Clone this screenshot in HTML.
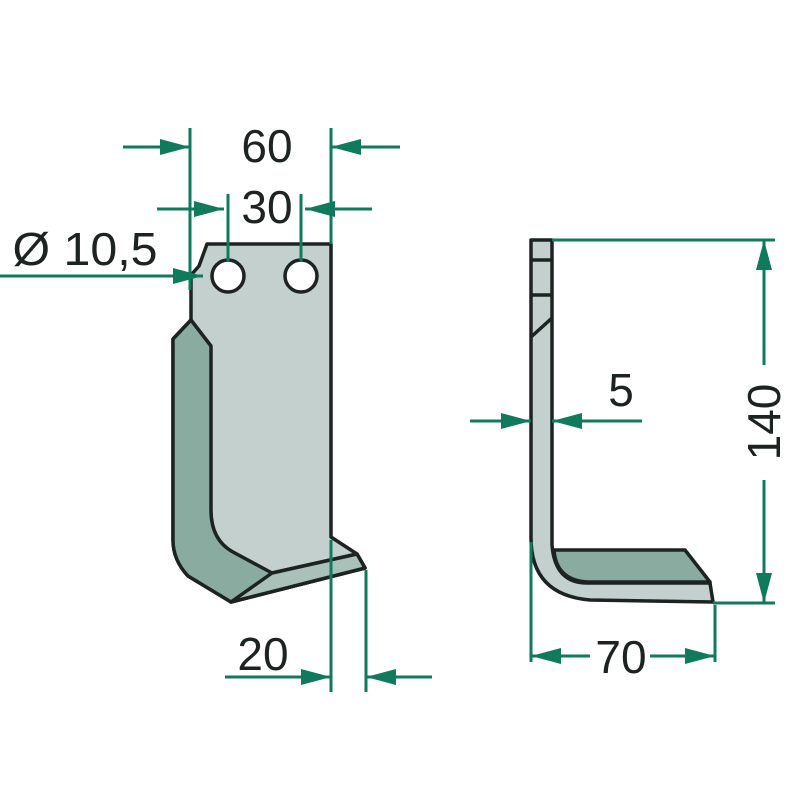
<!DOCTYPE html>
<html><head><style>body{margin:0;background:#fff}svg{display:block}</style></head>
<body>
<svg width="800" height="800" viewBox="0 0 800 800" xmlns="http://www.w3.org/2000/svg">
<defs>
<marker id="a" viewBox="0 0 30 16" refX="30" refY="8" markerWidth="30" markerHeight="16" markerUnits="userSpaceOnUse" orient="auto"><path d="M0,0 L30,8 L0,16 Z" fill="#0f7b5c"/></marker>
</defs>
<g stroke="#1c2321" stroke-width="3.5" stroke-linejoin="round">
<path d="M207,244 L331,244 L331,537 L357,554 L365,568 L231,602 L188,576 Q173,560 173,540 L173,339 L191,320 L191,275 L199,266 Z" fill="#c3d0cd"/>
<path d="M191,320 L211,346 L211,510 Q211,540 233,552 L272,573 L357,554 L365,568 L231,602 L188,576 Q173,560 173,540 L173,339 Z" fill="#8aab9f"/>
<path d="M272,573 L357,554 L365,568 L231,602 Z" fill="#a9c1b8"/>
<circle cx="228" cy="276" r="16" fill="#fff"/>
<circle cx="301" cy="276" r="16" fill="#fff"/>
<path d="M531,240 L552,240 L552,545 Q555,583 587,583 L710,583 L713,602 L590,600 Q531,595 531,538 Z" fill="#c3d0cd"/>
<path d="M554,550 L685,550 L710,582 L587,582 Q556,580 554,550 Z" fill="#8aab9f"/>
<path d="M531,260 H552 M531,295 H552 M531,337 L552,318" fill="none"/>
</g>
<g stroke="#0f7b5c" stroke-width="3" fill="none">
<path d="M190,128 V290 M331,128 V244 M228,194 V262 M301,194 V262 M331,540 V692 M366,570 V692"/>
<path d="M123,147 H190" marker-end="url(#a)"/>
<path d="M400,147 H331" marker-end="url(#a)"/>
<path d="M157,209 H224" marker-end="url(#a)"/>
<path d="M372,209 H305" marker-end="url(#a)"/>
<path d="M0,276 H203" marker-end="url(#a)"/>
<path d="M225,677 H331" marker-end="url(#a)"/>
<path d="M432,677 H366" marker-end="url(#a)"/>
<path d="M552,240 H775 M713,603 H775 M531,542 V662 M715,605 V662"/>
<path d="M764,365 V240" marker-end="url(#a)"/>
<path d="M764,480 V603" marker-end="url(#a)"/>
<path d="M470,421 H531" marker-end="url(#a)"/>
<path d="M642,421 H552" marker-end="url(#a)"/>
<path d="M590,656 H531" marker-end="url(#a)"/>
<path d="M650,656 H715" marker-end="url(#a)"/>
</g>
<g font-family="Liberation Sans, sans-serif" font-size="46" fill="#1c2321" text-anchor="middle">
<text x="267" y="162">60</text>
<text x="267" y="223">30</text>
<text x="85" y="265" textLength="145" lengthAdjust="spacingAndGlyphs">Ø 10,5</text>
<text x="263" y="670">20</text>
<text x="621" y="406">5</text>
<text x="621" y="673">70</text>
<text x="0" y="0" transform="translate(780,422) rotate(-90)">140</text>
</g>
</svg>
</body></html>
